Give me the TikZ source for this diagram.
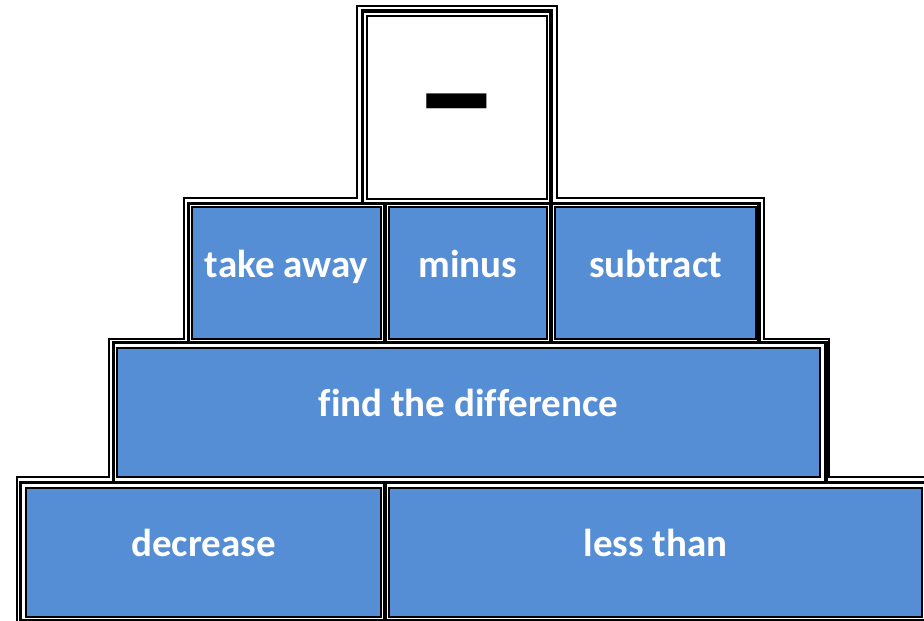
\documentclass[tikz,border=0pt]{standalone}
\usepackage{fontspec}
\setmainfont{Carlito}[Ligatures=NoCommon]
\definecolor{cellblue}{HTML}{558ED5}
\begin{document}
\begin{tikzpicture}[x=1pt,y=-1pt,
  thinln/.style={line width=1.4pt, draw=black},
  thickln/.style={line width=3.6pt, draw=black},
  cell/.style={draw=black, line width=1.3pt, fill=cellblue, inner sep=0pt,
    text=white, font=\fontsize{39}{45}\selectfont\bfseries,
    text height=20pt, text depth=12pt},
  opcell/.style={draw=black, line width=1.3pt, fill=white, inner sep=0pt,
    font=\fontsize{170}{180}\selectfont\bfseries, text height=84pt, text depth=0pt}]
\useasboundingbox (0,0) rectangle (924,621);
\fill[white] (0,0) rectangle (924,621);
% thick staircase frame
\draw[thickln] (20.5,630) -- (20.5,482.5) -- (113.5,482.5) -- (113.5,342.5) -- (188.5,342.5)
  -- (188.5,203.5) -- (362.5,203.5) -- (362.5,11) -- (551,11) -- (551,203.5) -- (759,203.5)
  -- (759,342.5) -- (826,342.5) -- (826,482.5) -- (935,482.5);
\draw[thickln] (362.5,203.5) -- (551,203.5);
\draw[thickln] (188.5,342.5) -- (759,342.5);
\draw[thickln] (113.5,482.5) -- (826,482.5);
\draw[thickln] (20.5,620.5) -- (935,620.5);
\draw[thickln] (385,203.5) -- (385,342.5);
\draw[thickln] (551,203.5) -- (551,342.5);
\draw[thickln] (385,482.5) -- (385,630);
% thin outer staircase
\draw[thinln] (17,630) -- (17,477) -- (109,477) -- (109,339) -- (184,339) -- (184,198)
  -- (357,198) -- (357,6) -- (557,6) -- (557,198) -- (764,198) -- (764,339) -- (829,339)
  -- (829,477) -- (935,477);
% cells
\node[opcell, minimum width=180pt, minimum height=183pt] (op) at (457,107.5) {–};
\node[cell, minimum width=189pt, minimum height=132pt] (takeaway) at (286.5,273) {take away};
\node[cell, minimum width=158pt, minimum height=132pt] (minus) at (468,273) {minus};
\node[cell, minimum width=201pt, minimum height=132pt] (subtract) at (655.5,273) {subtract};
\node[cell, minimum width=703pt, minimum height=129pt] (find) at (468.5,412.5) {find the difference};
\node[cell, minimum width=355pt, minimum height=129pt] (decrease) at (203.5,552.5) {decrease};
\node[cell, minimum width=533pt, minimum height=129pt] (lessthan) at (655.5,552.5) {less than};
\end{tikzpicture}
\end{document}
